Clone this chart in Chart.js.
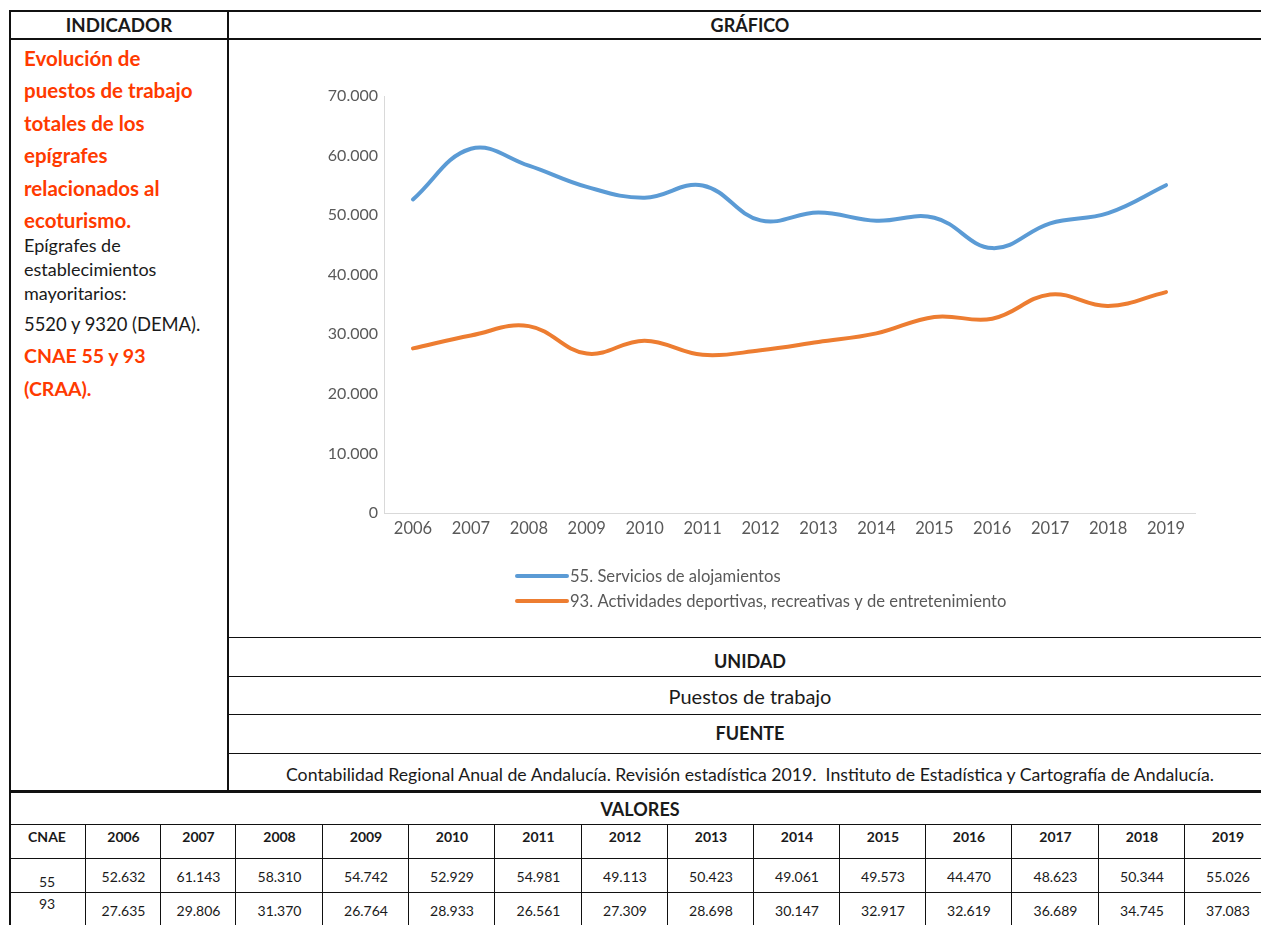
<!DOCTYPE html>
<html>
<head>
<meta charset="utf-8">
<script src="https://cdn.jsdelivr.net/npm/chart.js@4/dist/chart.umd.min.js"></script>
<style>
    html, body { margin: 0; padding: 0; background: #fff; }
    body { width: 1261px; height: 925px; position: relative; overflow: hidden; font-family: Lato, sans-serif; color: #1a1a1a; }
    .h, .v { position: absolute; background: #111; }
    .t { position: absolute; white-space: nowrap; }
    .c { transform: translateX(-50%); text-align: center; }
    .b { font-weight: bold; }
    .red { color: #ff3a00; font-weight: bold; }
    #chartBox { position: absolute; left: 229px; top: 40px; width: 1032px; height: 596px; }
</style>
</head>
<body>

<!-- upper frame -->
<div class="h" style="left:9px;top:10px;width:1252px;height:2px"></div>
<div class="h" style="left:9px;top:38px;width:1252px;height:2px"></div>
<div class="v" style="left:9px;top:10px;width:2px;height:915px"></div>
<div class="v" style="left:227px;top:10px;width:2px;height:781px"></div>
<div class="h" style="left:228px;top:637px;width:1033px;height:1px"></div>
<div class="h" style="left:228px;top:676px;width:1033px;height:1px"></div>
<div class="h" style="left:228px;top:714px;width:1033px;height:1px"></div>
<div class="h" style="left:228px;top:753px;width:1033px;height:1px"></div>
<div class="h" style="left:9px;top:790px;width:1252px;height:3px"></div>

<div class="t c b" style="left:119px;top:14px;font-size:18.7px;line-height:22px">INDICADOR</div>
<div class="t c b" style="left:750px;top:14px;font-size:18px;line-height:22px">GRÁFICO</div>

<div class="t red" style="left:24px;top:42px;font-size:20.5px;line-height:32.4px">Evolución de<br>puestos de trabajo<br>totales de los<br>epígrafes<br>relacionados al<br>ecoturismo.</div>
<div class="t" style="left:24px;top:233px;font-size:18px;line-height:24px">Epígrafes de<br>establecimientos<br>mayoritarios:</div>
<div class="t" style="left:24px;top:312px;font-size:18.4px;line-height:24px">5520 y 9320 (DEMA).</div>
<div class="t red" style="left:24px;top:339px;font-size:19.5px;line-height:33px">CNAE 55 y 93<br>(CRAA).</div>

<div id="chartBox"><canvas id="ecoChart" width="1032" height="596"></canvas></div>

<div class="t c b" style="left:750px;top:650px;font-size:18px;line-height:22px">UNIDAD</div>
<div class="t c" style="left:750px;top:685px;font-size:20px;line-height:22px">Puestos de trabajo</div>
<div class="t c b" style="left:750px;top:722px;font-size:18px;line-height:22px">FUENTE</div>
<div class="t c" style="left:750px;top:764px;font-size:17.7px;line-height:22px">Contabilidad Regional Anual de Andalucía. Revisión estadística 2019.&nbsp; Instituto de Estadística y Cartografía de Andalucía.</div>

<!-- values table -->
<div class="t c b" style="left:640px;top:798px;font-size:18px;line-height:22px">VALORES</div>
<div id="valores"></div>

<script>
const years = ['2006', '2007', '2008', '2009', '2010', '2011', '2012', '2013', '2014', '2015', '2016', '2017', '2018', '2019'];
const alojamientos = [52632, 61143, 58310, 54742, 52929, 54981, 49113, 50423, 49061, 49573, 44470, 48623, 50344, 55026];
const actividades = [27635, 29806, 31370, 26764, 28933, 26561, 27309, 28698, 30147, 32917, 32619, 36689, 34745, 37083];
const cnaeCodes = ['55', '93'];
const seriesNames = ['55. Servicios de alojamientos', '93. Actividades deportivas, recreativas y de entretenimiento'];
const yMax = 70000;
const yStep = 10000;

function fmt(v) {
    return String(v).replace(/\B(?=(\d{3})+(?!\d))/g, '.');
}

// bottom table, built from the same arrays
(function buildTable() {
    const box = document.getElementById('valores');
    const edges = [9, 85, 160, 235, 322, 408, 494, 581, 667, 753, 839, 925, 1011, 1098, 1184, 1270];
    let html = '';
    html += '<div class="h" style="left:9px;top:824px;width:1252px;height:1px"></div>';
    html += '<div class="h" style="left:9px;top:858px;width:1252px;height:1px"></div>';
    html += '<div class="h" style="left:9px;top:892px;width:1252px;height:1px"></div>';
    for (let i = 1; i < edges.length - 1; i++) {
        html += '<div class="v" style="left:' + edges[i] + 'px;top:824px;width:1px;height:101px"></div>';
    }
    const mid = i => (edges[i] + edges[i + 1]) / 2 + 1;
    html += '<div class="t c b" style="left:' + (mid(0) - 1) + 'px;top:828px;font-size:14px;line-height:18px">CNAE</div>';
    years.forEach((y, i) => {
        html += '<div class="t c b" style="left:' + mid(i + 1) + 'px;top:828px;font-size:14px;line-height:18px">' + y + '</div>';
    });
    html += '<div class="t c" style="left:' + (mid(0) - 1) + 'px;top:873px;font-size:14px;line-height:18px">' + cnaeCodes[0] + '</div>';
    html += '<div class="t c" style="left:' + (mid(0) - 1) + 'px;top:895px;font-size:14px;line-height:18px">' + cnaeCodes[1] + '</div>';
    [alojamientos, actividades].forEach((row, r) => {
        const top = r === 0 ? 868 : 902;
        row.forEach((v, i) => {
            html += '<div class="t c" style="left:' + mid(i + 1) + 'px;top:' + top + 'px;font-size:14px;line-height:18px">' + fmt(v) + '</div>';
        });
    });
    box.innerHTML = html;
})();

// legend stacked under the plot, left aligned like the original
const stackedLegend = {
    id: 'stackedLegend',
    afterDraw(chart) {
        const ctx = chart.ctx;
        const area = chart.chartArea;
        ctx.save();
        ctx.font = '16.6px Lato';
        ctx.textBaseline = 'middle';
        ctx.textAlign = 'left';
        chart.data.datasets.forEach((ds, i) => {
            const y = area.bottom + 63 + i * 25;
            const x = area.left + 133;
            ctx.strokeStyle = ds.borderColor;
            ctx.lineWidth = 4;
            ctx.lineCap = 'round';
            ctx.beginPath();
            ctx.moveTo(x, y);
            ctx.lineTo(x + 50, y);
            ctx.stroke();
            ctx.fillStyle = '#595959';
            ctx.fillText(ds.label, x + 53, y + 1);
        });
        ctx.restore();
    }
};

document.addEventListener('DOMContentLoaded', function () {
    Chart.defaults.font.family = 'Lato';
    const ctx = document.getElementById('ecoChart').getContext('2d');
    new Chart(ctx, {
        type: 'line',
        data: {
            labels: years,
            datasets: [{
                label: seriesNames[0],
                data: alojamientos,
                borderColor: '#5b9bd5',
                backgroundColor: '#5b9bd5',
                borderWidth: 4,
                tension: 0.4,
                pointRadius: 0,
                borderCapStyle: 'round',
                fill: false
            }, {
                label: seriesNames[1],
                data: actividades,
                borderColor: '#ed7d31',
                backgroundColor: '#ed7d31',
                borderWidth: 4,
                tension: 0.4,
                pointRadius: 0,
                borderCapStyle: 'round',
                fill: false
            }]
        },
        options: {
            responsive: false,
            animation: false,
            layout: { padding: { top: 56, right: 66, bottom: 0, left: 0 } },
            plugins: {
                legend: { display: false },
                tooltip: { enabled: false }
            },
            scales: {
                x: {
                    offset: true,
                    grid: { color: 'transparent', drawTicks: false },
                    border: { display: true, color: '#d9d9d9', width: 1 },
                    ticks: { color: '#595959', font: { size: 16.5 }, padding: 6, maxRotation: 0, autoSkip: false },
                    afterFit: s => { s.height = 123; }
                },
                y: {
                    min: 0,
                    max: yMax,
                    grid: { color: 'transparent', drawTicks: false },
                    border: { display: true, color: '#d9d9d9', width: 1 },
                    ticks: { stepSize: yStep, color: '#595959', font: { size: 16 }, padding: 6, callback: v => fmt(v) },
                    afterFit: s => { s.width = 155; }
                }
            }
        },
        plugins: [stackedLegend]
    });
});
</script>
</body>
</html>
